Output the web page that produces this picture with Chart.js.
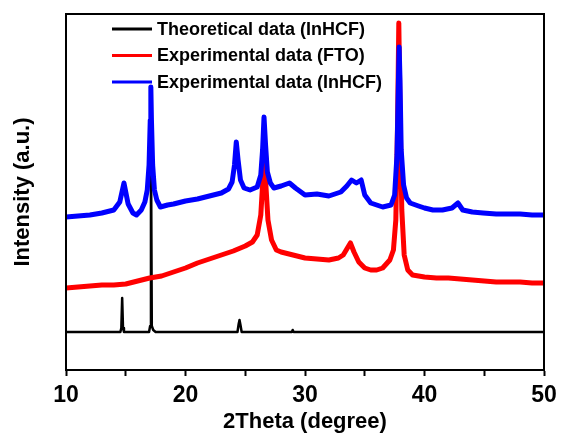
<!DOCTYPE html>
<html>
<head>
<meta charset="utf-8">
<script src="https://cdn.jsdelivr.net/npm/chart.js@4.4.1/dist/chart.umd.min.js"></script>
<style>
  html, body { margin: 0; padding: 0; background: #fff; }
  #wrap { width: 561px; height: 433px; }
</style>
</head>
<body>
<div id="wrap"><canvas id="xrd"></canvas></div>
<script>
// series labels
var seriesNames = ['Theoretical data (InHCF)', 'Experimental data (FTO)', 'Experimental data (InHCF)'];

// theoretical pattern (InHCF)
var theoAngle = [10, 14.55, 14.63, 14.7, 14.77, 14.85, 16.95, 17.04, 17.11, 17.18, 17.3, 17.5,
  24.35, 24.45, 24.52, 24.6, 24.7, 28.9, 28.97, 29.05, 50];
var theoInt = [38, 38, 42, 72, 42, 38, 38, 44, 232, 44, 40, 38,
  38, 46, 50, 45, 38, 38, 40, 38, 38];

// experimental FTO
var ftoAngle = [10, 11, 12, 13, 14, 15, 16, 17, 18, 19, 20, 21, 22, 23, 24, 25, 25.6,
  26.0, 26.3, 26.5, 26.58, 26.7, 26.9, 27.2, 27.6, 28, 29, 30, 31, 32, 32.8, 33.2, 33.5, 33.8,
  34.1, 34.5, 35, 35.5, 36, 36.5, 37.1, 37.4, 37.6, 37.75, 37.85, 37.95, 38.1, 38.3, 38.6,
  39, 40, 41, 42, 43, 44, 45, 46, 47, 48, 49, 50];
var ftoInt = [82, 83, 84, 85, 85, 86, 89, 92, 94, 98, 102, 107, 111, 115, 119, 124, 128,
  135, 155, 195, 215, 190, 150, 130, 120, 118, 115, 112, 111, 110, 112, 115, 121, 127,
  118, 108, 102, 100, 100, 102, 110, 120, 150, 250, 347, 260, 160, 115, 100,
  95, 93, 92, 92, 91, 90, 89, 88, 88, 88, 87, 87];

// experimental InHCF
var inhcfAngle = [10, 11, 12, 13, 14, 14.5, 14.85, 15.2, 15.6, 15.9, 16.3, 16.6, 16.8, 16.95,
  17.05, 17.1, 17.15, 17.25, 17.4, 17.6, 17.9, 18.5, 19, 20, 21, 22, 23, 23.6, 23.9, 24.1,
  24.25, 24.4, 24.6, 24.9, 25.4, 26.0, 26.3, 26.45, 26.57, 26.7, 26.85, 27.1, 27.4, 28, 28.7,
  29.2, 30, 31, 32, 33, 33.5, 33.9, 34.3, 34.7, 35, 35.5, 36, 36.5, 37.2, 37.5, 37.7, 37.82,
  37.88, 37.95, 38.05, 38.25, 38.5, 38.8, 39.5, 40, 40.7, 41.5, 42.3, 42.8, 43.2, 44, 44.9,
  46, 47, 48, 49, 50];
var inhcfInt = [153, 154, 155, 157, 160, 168, 187, 166, 157, 155, 160, 168, 180, 205,
  250, 283, 250, 205, 180, 170, 163, 165, 166, 169, 171, 174, 177, 181, 188, 205,
  228, 210, 190, 182, 180, 183, 195, 220, 253, 225, 198, 187, 182, 184, 187,
  182, 175, 176, 174, 178, 184, 190, 187, 190, 175, 167, 165, 163, 165, 175, 215, 290,
  323, 290, 220, 185, 172, 167, 164, 162, 160, 160, 162, 167, 160, 158, 157,
  156, 156, 156, 155, 155];

var xTicks = [10, 20, 30, 40, 50];

function pairs(xs, ys) {
  return xs.map(function(x, i) { return { x: x, y: ys[i] }; });
}

var FONT = '"Liberation Sans", Arial, sans-serif';

// legend drawn inside the plot, top-left
var insideLegend = {
  id: 'insideLegend',
  afterDraw: function(chart) {
    var ctx = chart.ctx;
    var area = chart.chartArea;
    var order = [2, 1, 0]; // dataset indexes in legend order
    ctx.save();
    ctx.font = 'bold 18px ' + FONT;
    ctx.textBaseline = 'middle';
    order.forEach(function(di, row) {
      var ds = chart.data.datasets[di];
      var y = area.top + 15 + row * 26.5;
      ctx.strokeStyle = ds.borderColor;
      ctx.lineWidth = 3;
      ctx.beginPath();
      ctx.moveTo(area.left + 46, y);
      ctx.lineTo(area.left + 86, y);
      ctx.stroke();
      ctx.fillStyle = '#000';
      ctx.fillText(ds.label, area.left + 91, y + 1);
    });
    ctx.restore();
  }
};

// full frame round the plot
var frame = {
  id: 'frame',
  afterDraw: function(chart) {
    var a = chart.chartArea;
    var ctx = chart.ctx;
    ctx.save();
    ctx.strokeStyle = '#000';
    ctx.lineWidth = 2;
    ctx.strokeRect(a.left, a.top, a.right - a.left, a.bottom - a.top);
    ctx.restore();
  }
};

var ctx = document.getElementById('xrd').getContext('2d');
var chart = new Chart(ctx, {
  type: 'line',
  data: {
    datasets: [
      { label: seriesNames[2], data: pairs(inhcfAngle, inhcfInt), borderColor: '#0000ff', borderWidth: 5, order: 0 },
      { label: seriesNames[1], data: pairs(ftoAngle, ftoInt), borderColor: '#ff0000', borderWidth: 5, order: 1 },
      { label: seriesNames[0], data: pairs(theoAngle, theoInt), borderColor: '#000000', borderWidth: 2.5, order: 2 }
    ]
  },
  options: {
    responsive: true,
    maintainAspectRatio: false,
    animation: false,
    events: [],
    elements: { point: { radius: 0 }, line: { tension: 0, borderJoinStyle: 'round' } },
    layout: { padding: { top: 14, right: 17, left: 0, bottom: 0 } },
    plugins: { legend: { display: false }, tooltip: { enabled: false } },
    scales: {
      x: {
        type: 'linear',
        min: 10,
        max: 50,
        afterBuildTicks: function(scale) {
          var t = [];
          for (var v = 10; v <= 50; v += 5) t.push({ value: v });
          scale.ticks = t;
        },
        afterFit: function(scale) {
          scale.height = 63;
          scale.paddingLeft = 0;
          scale.paddingRight = 0;
        },
        ticks: {
          color: '#000',
          padding: 6,
          maxRotation: 0,
          font: { family: FONT, size: 23, weight: 'bold' },
          callback: function(v) { return xTicks.indexOf(v) >= 0 ? String(v) : ''; }
        },
        grid: { drawOnChartArea: false, drawTicks: true, tickLength: 6, tickColor: '#000', tickWidth: 2 },
        border: { display: true, color: '#000', width: 2 },
        title: {
          display: true,
          text: '2Theta (degree)',
          color: '#000',
          font: { family: FONT, size: 22, weight: 'bold', lineHeight: 1 },
          padding: { top: 0, bottom: 0 }
        }
      },
      y: {
        type: 'linear',
        min: 0,
        max: 356,
        afterFit: function(scale) { scale.width = 66; },
        ticks: { display: false },
        grid: { display: false },
        border: { display: true, color: '#000', width: 2 },
        title: {
          display: true,
          text: 'Intensity (a.u.)',
          color: '#000',
          font: { family: FONT, size: 22, weight: 'bold', lineHeight: 1 },
          padding: { top: 12, bottom: 0 }
        }
      }
    }
  },
  plugins: [insideLegend, frame]
});
</script>
</body>
</html>
